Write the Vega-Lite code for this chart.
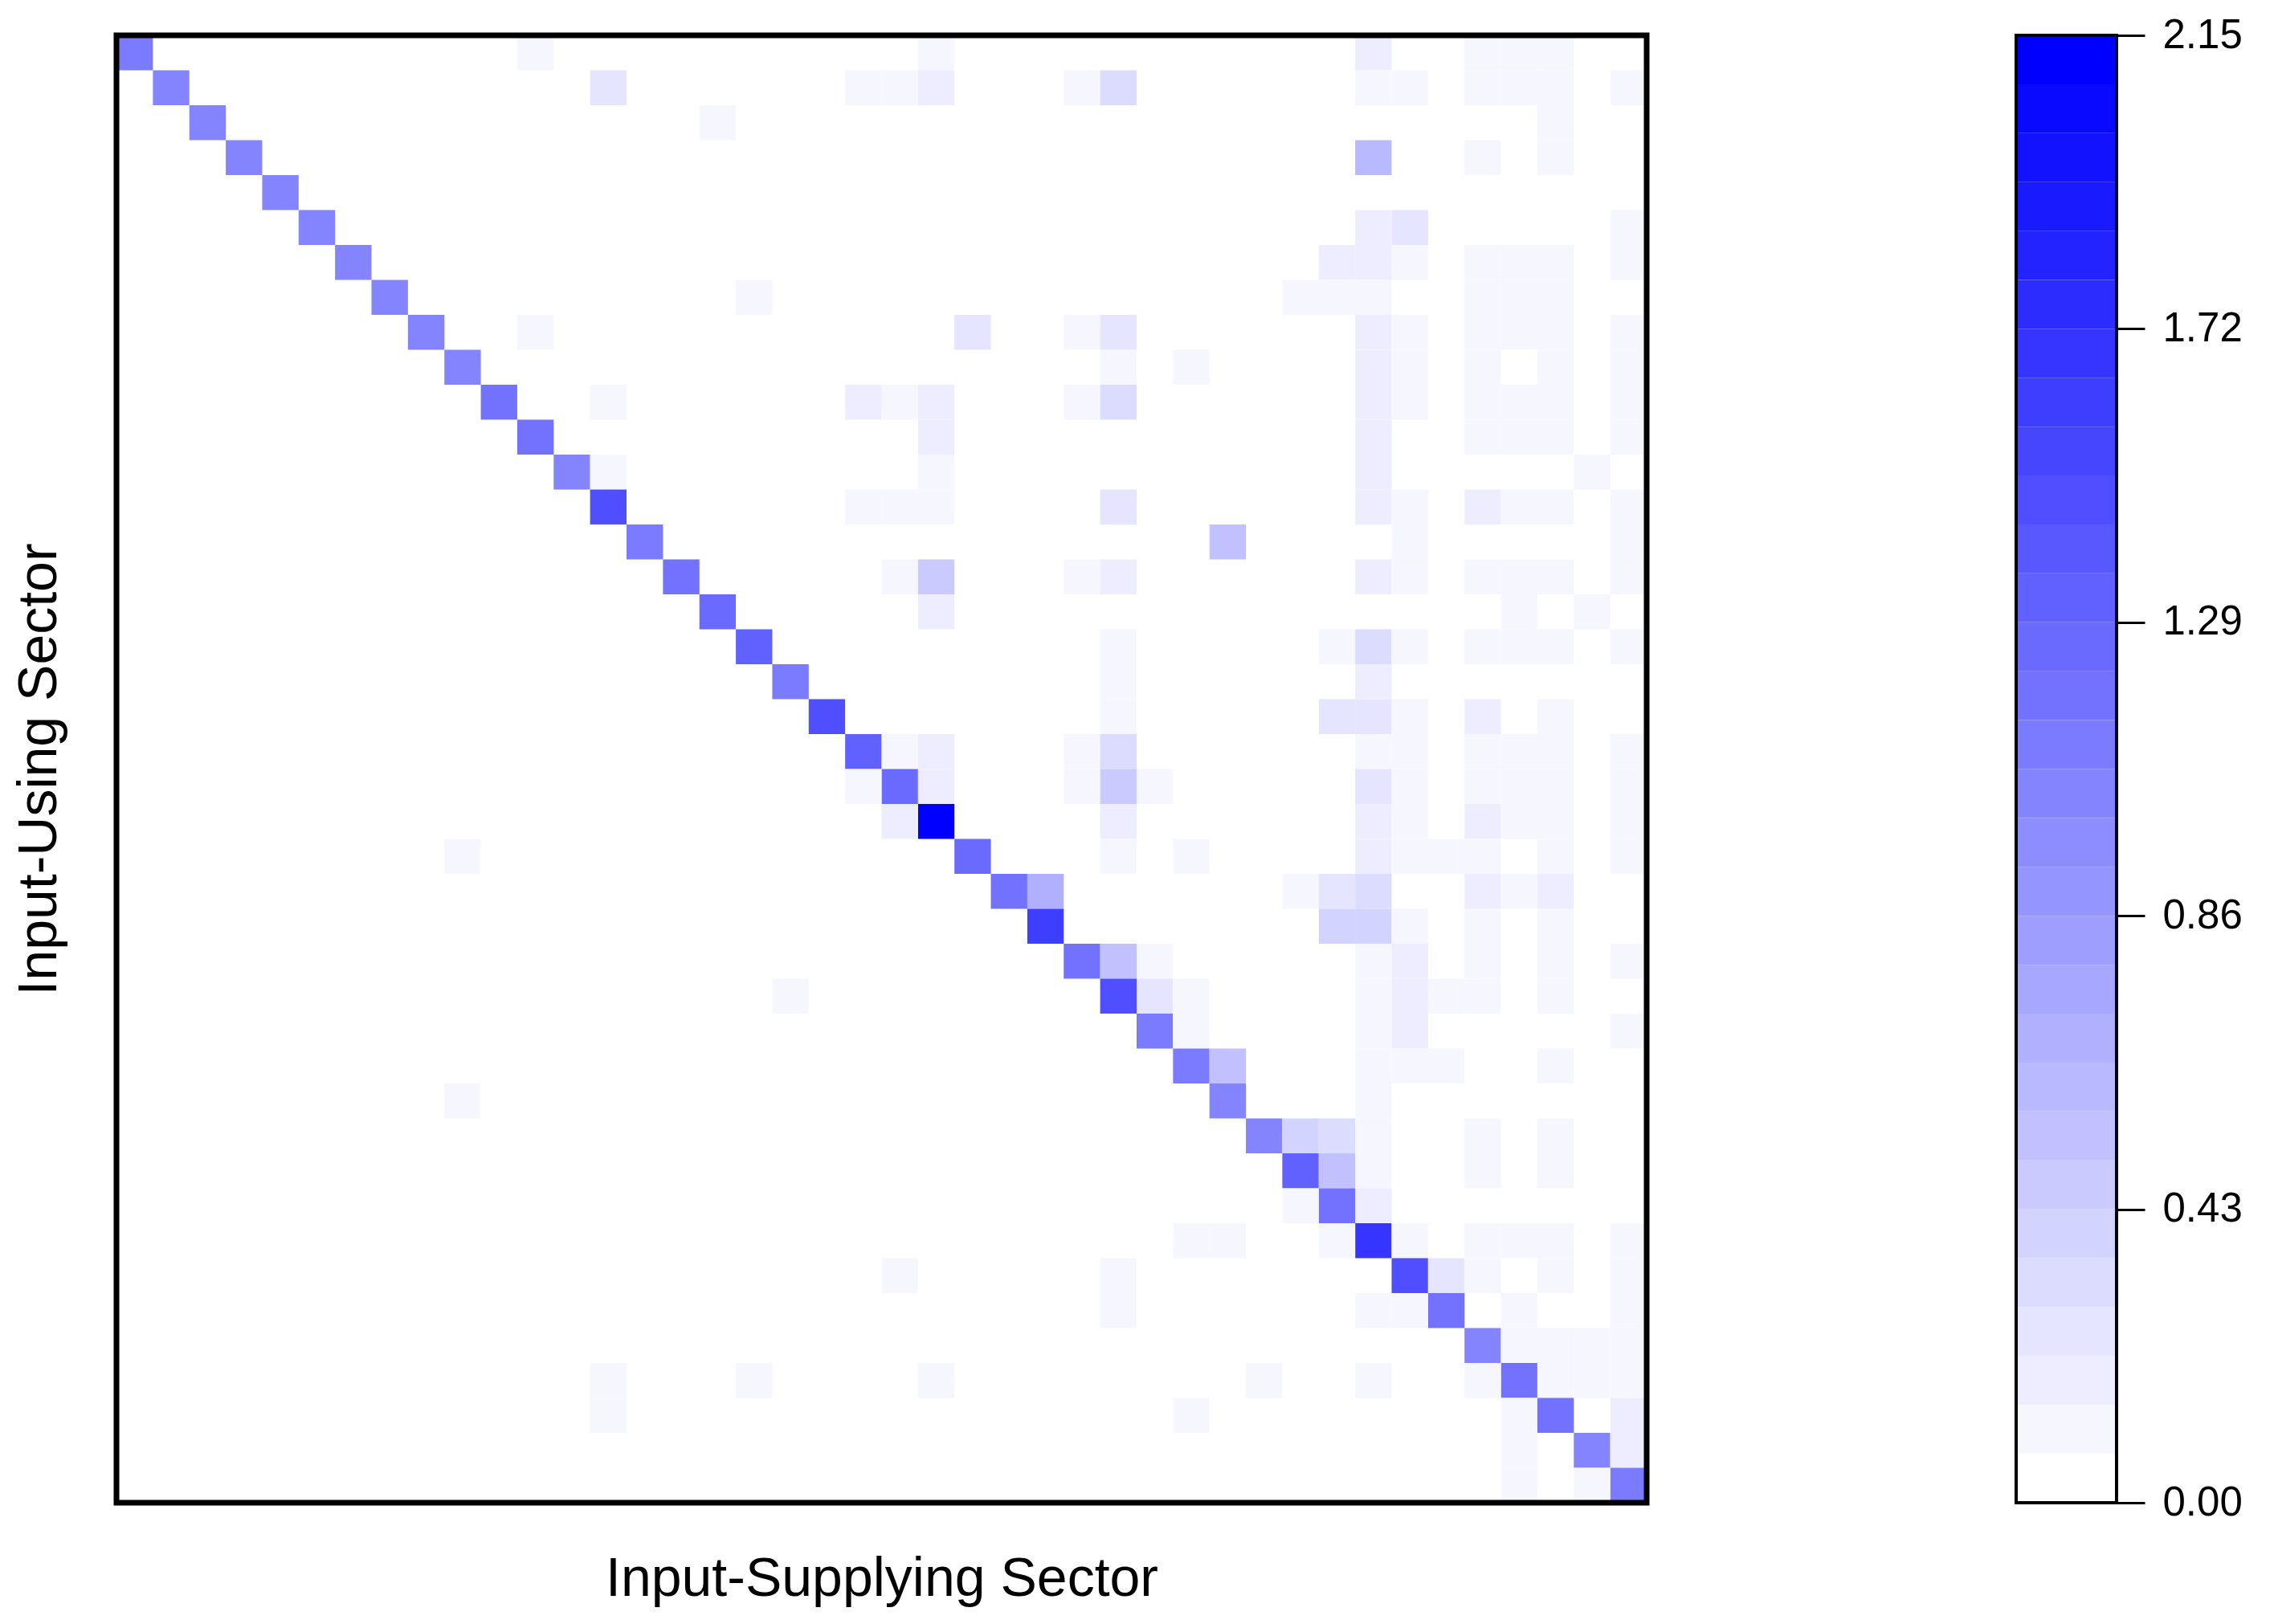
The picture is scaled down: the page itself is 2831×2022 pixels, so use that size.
{
  "$schema": "https://vega.github.io/schema/vega-lite/v6.json",
  "background": "white",
  "padding": {"left": 15, "top": 18, "right": 10, "bottom": 10},
  "spacing": 460,
  "bounds": "flush",
  "resolve": {"scale": {"color": "shared"}},
  "config": {
    "font": "Liberation Sans",
    "axis": {"titleFont": "Liberation Sans", "labelFont": "Liberation Sans", "titleFontWeight": "normal", "titleColor": "black", "labelColor": "black"}
  },
  "hconcat": [
    {
      "width": 1905,
      "height": 1827,
      "view": {"stroke": null},
      "layer": [
        {
          "data": {"values": [
            {"user":1,"supplier":1,"value":1.111},{"user":1,"supplier":12,"value":0.1},{"user":1,"supplier":23,"value":0.11},{"user":1,"supplier":35,"value":0.18},{"user":1,"supplier":38,"value":0.1},{"user":1,"supplier":39,"value":0.12},{"user":1,"supplier":40,"value":0.09},
            {"user":2,"supplier":2,"value":1.04},{"user":2,"supplier":14,"value":0.25},{"user":2,"supplier":21,"value":0.1},{"user":2,"supplier":22,"value":0.11},{"user":2,"supplier":23,"value":0.18},{"user":2,"supplier":27,"value":0.1},{"user":2,"supplier":28,"value":0.32},{"user":2,"supplier":35,"value":0.12},{"user":2,"supplier":36,"value":0.1},{"user":2,"supplier":38,"value":0.11},{"user":2,"supplier":39,"value":0.1},{"user":2,"supplier":40,"value":0.12},{"user":2,"supplier":42,"value":0.1},
            {"user":3,"supplier":3,"value":1.04},{"user":3,"supplier":17,"value":0.1},{"user":3,"supplier":40,"value":0.11},
            {"user":4,"supplier":4,"value":1.04},{"user":4,"supplier":35,"value":0.61},{"user":4,"supplier":38,"value":0.1},{"user":4,"supplier":40,"value":0.12},
            {"user":5,"supplier":5,"value":1.04},
            {"user":6,"supplier":6,"value":1.04},{"user":6,"supplier":35,"value":0.18},{"user":6,"supplier":36,"value":0.25},{"user":6,"supplier":42,"value":0.1},
            {"user":7,"supplier":7,"value":1.04},{"user":7,"supplier":34,"value":0.18},{"user":7,"supplier":35,"value":0.19},{"user":7,"supplier":36,"value":0.11},{"user":7,"supplier":38,"value":0.1},{"user":7,"supplier":39,"value":0.11},{"user":7,"supplier":40,"value":0.1},{"user":7,"supplier":42,"value":0.12},
            {"user":8,"supplier":8,"value":1.04},{"user":8,"supplier":18,"value":0.1},{"user":8,"supplier":33,"value":0.1},{"user":8,"supplier":34,"value":0.11},{"user":8,"supplier":35,"value":0.12},{"user":8,"supplier":38,"value":0.1},{"user":8,"supplier":39,"value":0.11},{"user":8,"supplier":40,"value":0.1},
            {"user":9,"supplier":9,"value":1.04},{"user":9,"supplier":12,"value":0.1},{"user":9,"supplier":24,"value":0.25},{"user":9,"supplier":27,"value":0.11},{"user":9,"supplier":28,"value":0.26},{"user":9,"supplier":35,"value":0.18},{"user":9,"supplier":36,"value":0.1},{"user":9,"supplier":38,"value":0.12},{"user":9,"supplier":39,"value":0.1},{"user":9,"supplier":40,"value":0.11},{"user":9,"supplier":42,"value":0.1},
            {"user":10,"supplier":10,"value":1.04},{"user":10,"supplier":28,"value":0.1},{"user":10,"supplier":30,"value":0.1},{"user":10,"supplier":35,"value":0.18},{"user":10,"supplier":36,"value":0.11},{"user":10,"supplier":38,"value":0.1},{"user":10,"supplier":40,"value":0.12},{"user":10,"supplier":42,"value":0.1},
            {"user":11,"supplier":11,"value":1.18},{"user":11,"supplier":14,"value":0.1},{"user":11,"supplier":21,"value":0.18},{"user":11,"supplier":22,"value":0.11},{"user":11,"supplier":23,"value":0.19},{"user":11,"supplier":27,"value":0.1},{"user":11,"supplier":28,"value":0.32},{"user":11,"supplier":35,"value":0.18},{"user":11,"supplier":36,"value":0.1},{"user":11,"supplier":38,"value":0.11},{"user":11,"supplier":39,"value":0.1},{"user":11,"supplier":40,"value":0.12},{"user":11,"supplier":42,"value":0.1},
            {"user":12,"supplier":12,"value":1.19},{"user":12,"supplier":23,"value":0.18},{"user":12,"supplier":35,"value":0.18},{"user":12,"supplier":38,"value":0.1},{"user":12,"supplier":39,"value":0.11},{"user":12,"supplier":40,"value":0.1},{"user":12,"supplier":42,"value":0.11},
            {"user":13,"supplier":13,"value":1.03},{"user":13,"supplier":14,"value":0.1},{"user":13,"supplier":23,"value":0.12},{"user":13,"supplier":35,"value":0.18},{"user":13,"supplier":41,"value":0.1},
            {"user":14,"supplier":14,"value":1.47},{"user":14,"supplier":21,"value":0.1},{"user":14,"supplier":22,"value":0.11},{"user":14,"supplier":23,"value":0.12},{"user":14,"supplier":28,"value":0.25},{"user":14,"supplier":35,"value":0.18},{"user":14,"supplier":36,"value":0.1},{"user":14,"supplier":38,"value":0.18},{"user":14,"supplier":39,"value":0.11},{"user":14,"supplier":40,"value":0.1},{"user":14,"supplier":42,"value":0.1},
            {"user":15,"supplier":15,"value":1.11},{"user":15,"supplier":31,"value":0.54},{"user":15,"supplier":36,"value":0.1},{"user":15,"supplier":42,"value":0.11},
            {"user":16,"supplier":16,"value":1.18},{"user":16,"supplier":22,"value":0.1},{"user":16,"supplier":23,"value":0.47},{"user":16,"supplier":27,"value":0.11},{"user":16,"supplier":28,"value":0.18},{"user":16,"supplier":35,"value":0.18},{"user":16,"supplier":36,"value":0.1},{"user":16,"supplier":38,"value":0.11},{"user":16,"supplier":39,"value":0.1},{"user":16,"supplier":40,"value":0.12},{"user":16,"supplier":42,"value":0.1},
            {"user":17,"supplier":17,"value":1.25},{"user":17,"supplier":23,"value":0.18},{"user":17,"supplier":39,"value":0.1},{"user":17,"supplier":41,"value":0.11},
            {"user":18,"supplier":18,"value":1.33},{"user":18,"supplier":28,"value":0.1},{"user":18,"supplier":34,"value":0.11},{"user":18,"supplier":35,"value":0.32},{"user":18,"supplier":36,"value":0.1},{"user":18,"supplier":38,"value":0.12},{"user":18,"supplier":39,"value":0.1},{"user":18,"supplier":40,"value":0.11},{"user":18,"supplier":42,"value":0.1},
            {"user":19,"supplier":19,"value":1.11},{"user":19,"supplier":28,"value":0.1},{"user":19,"supplier":35,"value":0.18},
            {"user":20,"supplier":20,"value":1.47},{"user":20,"supplier":28,"value":0.11},{"user":20,"supplier":34,"value":0.25},{"user":20,"supplier":35,"value":0.26},{"user":20,"supplier":36,"value":0.1},{"user":20,"supplier":38,"value":0.18},{"user":20,"supplier":40,"value":0.1},
            {"user":21,"supplier":21,"value":1.32},{"user":21,"supplier":22,"value":0.1},{"user":21,"supplier":23,"value":0.18},{"user":21,"supplier":27,"value":0.11},{"user":21,"supplier":28,"value":0.32},{"user":21,"supplier":35,"value":0.1},{"user":21,"supplier":36,"value":0.12},{"user":21,"supplier":38,"value":0.1},{"user":21,"supplier":39,"value":0.11},{"user":21,"supplier":40,"value":0.1},{"user":21,"supplier":42,"value":0.11},
            {"user":22,"supplier":22,"value":1.26},{"user":22,"supplier":21,"value":0.1},{"user":22,"supplier":23,"value":0.18},{"user":22,"supplier":27,"value":0.1},{"user":22,"supplier":28,"value":0.47},{"user":22,"supplier":29,"value":0.11},{"user":22,"supplier":35,"value":0.25},{"user":22,"supplier":36,"value":0.1},{"user":22,"supplier":38,"value":0.12},{"user":22,"supplier":39,"value":0.1},{"user":22,"supplier":40,"value":0.11},{"user":22,"supplier":42,"value":0.1},
            {"user":23,"supplier":23,"value":2.15},{"user":23,"supplier":22,"value":0.18},{"user":23,"supplier":28,"value":0.18},{"user":23,"supplier":35,"value":0.18},{"user":23,"supplier":36,"value":0.1},{"user":23,"supplier":38,"value":0.18},{"user":23,"supplier":39,"value":0.11},{"user":23,"supplier":40,"value":0.1},{"user":23,"supplier":42,"value":0.12},
            {"user":24,"supplier":24,"value":1.25},{"user":24,"supplier":10,"value":0.1},{"user":24,"supplier":28,"value":0.11},{"user":24,"supplier":30,"value":0.1},{"user":24,"supplier":35,"value":0.18},{"user":24,"supplier":36,"value":0.1},{"user":24,"supplier":37,"value":0.11},{"user":24,"supplier":38,"value":0.1},{"user":24,"supplier":40,"value":0.12},{"user":24,"supplier":42,"value":0.1},
            {"user":25,"supplier":25,"value":1.18},{"user":25,"supplier":26,"value":0.68},{"user":25,"supplier":33,"value":0.1},{"user":25,"supplier":34,"value":0.25},{"user":25,"supplier":35,"value":0.32},{"user":25,"supplier":38,"value":0.18},{"user":25,"supplier":39,"value":0.11},{"user":25,"supplier":40,"value":0.18},
            {"user":26,"supplier":26,"value":1.61},{"user":26,"supplier":34,"value":0.39},{"user":26,"supplier":35,"value":0.4},{"user":26,"supplier":36,"value":0.1},{"user":26,"supplier":38,"value":0.11},{"user":26,"supplier":40,"value":0.1},
            {"user":27,"supplier":27,"value":1.18},{"user":27,"supplier":28,"value":0.54},{"user":27,"supplier":29,"value":0.1},{"user":27,"supplier":35,"value":0.11},{"user":27,"supplier":36,"value":0.18},{"user":27,"supplier":38,"value":0.1},{"user":27,"supplier":40,"value":0.12},{"user":27,"supplier":42,"value":0.1},
            {"user":28,"supplier":28,"value":1.47},{"user":28,"supplier":19,"value":0.1},{"user":28,"supplier":29,"value":0.25},{"user":28,"supplier":30,"value":0.11},{"user":28,"supplier":35,"value":0.1},{"user":28,"supplier":36,"value":0.18},{"user":28,"supplier":37,"value":0.1},{"user":28,"supplier":38,"value":0.12},{"user":28,"supplier":40,"value":0.1},
            {"user":29,"supplier":29,"value":1.11},{"user":29,"supplier":30,"value":0.1},{"user":29,"supplier":35,"value":0.11},{"user":29,"supplier":36,"value":0.18},{"user":29,"supplier":42,"value":0.1},
            {"user":30,"supplier":30,"value":1.1},{"user":30,"supplier":31,"value":0.54},{"user":30,"supplier":35,"value":0.1},{"user":30,"supplier":36,"value":0.11},{"user":30,"supplier":37,"value":0.1},{"user":30,"supplier":40,"value":0.12},
            {"user":31,"supplier":31,"value":1.04},{"user":31,"supplier":10,"value":0.1},{"user":31,"supplier":35,"value":0.11},
            {"user":32,"supplier":32,"value":1.04},{"user":32,"supplier":33,"value":0.39},{"user":32,"supplier":34,"value":0.32},{"user":32,"supplier":35,"value":0.1},{"user":32,"supplier":38,"value":0.11},{"user":32,"supplier":40,"value":0.1},
            {"user":33,"supplier":33,"value":1.33},{"user":33,"supplier":34,"value":0.54},{"user":33,"supplier":35,"value":0.11},{"user":33,"supplier":38,"value":0.1},{"user":33,"supplier":40,"value":0.12},
            {"user":34,"supplier":34,"value":1.18},{"user":34,"supplier":33,"value":0.1},{"user":34,"supplier":35,"value":0.18},
            {"user":35,"supplier":35,"value":1.68},{"user":35,"supplier":30,"value":0.1},{"user":35,"supplier":31,"value":0.11},{"user":35,"supplier":34,"value":0.1},{"user":35,"supplier":36,"value":0.12},{"user":35,"supplier":38,"value":0.1},{"user":35,"supplier":39,"value":0.11},{"user":35,"supplier":40,"value":0.1},{"user":35,"supplier":42,"value":0.11},
            {"user":36,"supplier":36,"value":1.47},{"user":36,"supplier":22,"value":0.1},{"user":36,"supplier":28,"value":0.11},{"user":36,"supplier":37,"value":0.25},{"user":36,"supplier":38,"value":0.1},{"user":36,"supplier":40,"value":0.12},{"user":36,"supplier":42,"value":0.1},
            {"user":37,"supplier":37,"value":1.18},{"user":37,"supplier":28,"value":0.1},{"user":37,"supplier":35,"value":0.11},{"user":37,"supplier":36,"value":0.1},{"user":37,"supplier":39,"value":0.12},{"user":37,"supplier":42,"value":0.1},
            {"user":38,"supplier":38,"value":1.04},{"user":38,"supplier":39,"value":0.1},{"user":38,"supplier":40,"value":0.11},{"user":38,"supplier":41,"value":0.1},{"user":38,"supplier":42,"value":0.12},
            {"user":39,"supplier":39,"value":1.18},{"user":39,"supplier":14,"value":0.1},{"user":39,"supplier":18,"value":0.11},{"user":39,"supplier":23,"value":0.1},{"user":39,"supplier":32,"value":0.11},{"user":39,"supplier":35,"value":0.1},{"user":39,"supplier":38,"value":0.12},{"user":39,"supplier":40,"value":0.1},{"user":39,"supplier":41,"value":0.11},{"user":39,"supplier":42,"value":0.1},
            {"user":40,"supplier":40,"value":1.18},{"user":40,"supplier":14,"value":0.1},{"user":40,"supplier":30,"value":0.11},{"user":40,"supplier":39,"value":0.1},{"user":40,"supplier":42,"value":0.18},
            {"user":41,"supplier":41,"value":1.04},{"user":41,"supplier":39,"value":0.11},{"user":41,"supplier":42,"value":0.18},
            {"user":42,"supplier":42,"value":1.11},{"user":42,"supplier":39,"value":0.1},{"user":42,"supplier":41,"value":0.11}
          ]},
          "mark": {"type": "rect"},
          "encoding": {
            "x": {
              "field": "supplier", "type": "ordinal",
              "scale": {"domain": [1,2,3,4,5,6,7,8,9,10,11,12,13,14,15,16,17,18,19,20,21,22,23,24,25,26,27,28,29,30,31,32,33,34,35,36,37,38,39,40,41,42], "paddingInner": 0, "paddingOuter": 0},
              "axis": {"title": "Input-Supplying Sector", "labels": false, "ticks": false, "domain": false, "grid": false, "titlePadding": 61, "titleFontSize": 68}
            },
            "y": {
              "field": "user", "type": "ordinal",
              "scale": {"domain": [1,2,3,4,5,6,7,8,9,10,11,12,13,14,15,16,17,18,19,20,21,22,23,24,25,26,27,28,29,30,31,32,33,34,35,36,37,38,39,40,41,42], "paddingInner": 0, "paddingOuter": 0},
              "axis": {"title": "Input-Using Sector", "labels": false, "ticks": false, "domain": false, "grid": false, "titlePadding": 62, "titleFontSize": 68}
            },
            "color": {
              "field": "value", "type": "quantitative",
              "scale": {"type": "quantize", "domain": [0, 2.15], "nice": false, "zero": false,
                "range": ["#ffffff","#f6f6ff","#ededff","#e5e5ff","#dcdcff","#d3d3ff","#cacaff","#c1c1ff","#b9b9ff","#b0b0ff","#a7a7ff","#9e9eff","#9595ff","#8d8dff","#8484ff","#7b7bff","#7272ff","#6a6aff","#6161ff","#5858ff","#4f4fff","#4646ff","#3e3eff","#3535ff","#2c2cff","#2323ff","#1a1aff","#1212ff","#0909ff","#0000ff"]},
              "legend": null
            }
          }
        },
        {
          "data": {"values": [{"frame": "plot"}]},
          "mark": {"type": "rect", "filled": false, "stroke": "black", "strokeWidth": 7},
          "encoding": {}
        }
      ]
    },
    {
      "width": 125,
      "height": 1827,
      "view": {"stroke": null},
      "layer": [
        {
          "data": {"values": [
            {"lo":0,"hi":0.0717,"mid":0.0358},{"lo":0.0717,"hi":0.1433,"mid":0.1075},{"lo":0.1433,"hi":0.215,"mid":0.1792},{"lo":0.215,"hi":0.2867,"mid":0.2508},{"lo":0.2867,"hi":0.3583,"mid":0.3225},{"lo":0.3583,"hi":0.43,"mid":0.3942},
            {"lo":0.43,"hi":0.5017,"mid":0.4658},{"lo":0.5017,"hi":0.5733,"mid":0.5375},{"lo":0.5733,"hi":0.645,"mid":0.6092},{"lo":0.645,"hi":0.7167,"mid":0.6808},{"lo":0.7167,"hi":0.7883,"mid":0.7525},{"lo":0.7883,"hi":0.86,"mid":0.8242},
            {"lo":0.86,"hi":0.9317,"mid":0.8958},{"lo":0.9317,"hi":1.0033,"mid":0.9675},{"lo":1.0033,"hi":1.075,"mid":1.0392},{"lo":1.075,"hi":1.1467,"mid":1.1108},{"lo":1.1467,"hi":1.2183,"mid":1.1825},{"lo":1.2183,"hi":1.29,"mid":1.2542},
            {"lo":1.29,"hi":1.3617,"mid":1.3258},{"lo":1.3617,"hi":1.4333,"mid":1.3975},{"lo":1.4333,"hi":1.505,"mid":1.4692},{"lo":1.505,"hi":1.5767,"mid":1.5408},{"lo":1.5767,"hi":1.6483,"mid":1.6125},{"lo":1.6483,"hi":1.72,"mid":1.6842},
            {"lo":1.72,"hi":1.7917,"mid":1.7558},{"lo":1.7917,"hi":1.8633,"mid":1.8275},{"lo":1.8633,"hi":1.935,"mid":1.8992},{"lo":1.935,"hi":2.0067,"mid":1.9708},{"lo":2.0067,"hi":2.0783,"mid":2.0425},{"lo":2.0783,"hi":2.15,"mid":2.1142}
          ]},
          "mark": {"type": "rect"},
          "encoding": {
            "y": {
              "field": "lo", "type": "quantitative",
              "scale": {"domain": [0, 2.15], "nice": false, "zero": false},
              "axis": {"orient": "right", "values": [0, 0.43, 0.86, 1.29, 1.72, 2.15], "format": ".2f", "title": null, "domain": false, "grid": false, "tickSize": 35, "tickWidth": 3, "tickColor": "black", "labelFontSize": 51, "labelPadding": 22, "labelOverlap": false, "labelBound": false, "labelFlush": false}
            },
            "y2": {"field": "hi"},
            "color": {
              "field": "mid", "type": "quantitative",
              "scale": {"type": "quantize", "domain": [0, 2.15], "nice": false, "zero": false,
                "range": ["#ffffff","#f6f6ff","#ededff","#e5e5ff","#dcdcff","#d3d3ff","#cacaff","#c1c1ff","#b9b9ff","#b0b0ff","#a7a7ff","#9e9eff","#9595ff","#8d8dff","#8484ff","#7b7bff","#7272ff","#6a6aff","#6161ff","#5858ff","#4f4fff","#4646ff","#3e3eff","#3535ff","#2c2cff","#2323ff","#1a1aff","#1212ff","#0909ff","#0000ff"]},
              "legend": null
            }
          }
        },
        {
          "data": {"values": [{"frame": "legend"}]},
          "mark": {"type": "rect", "filled": false, "stroke": "black", "strokeWidth": 4},
          "encoding": {}
        }
      ]
    }
  ]
}
